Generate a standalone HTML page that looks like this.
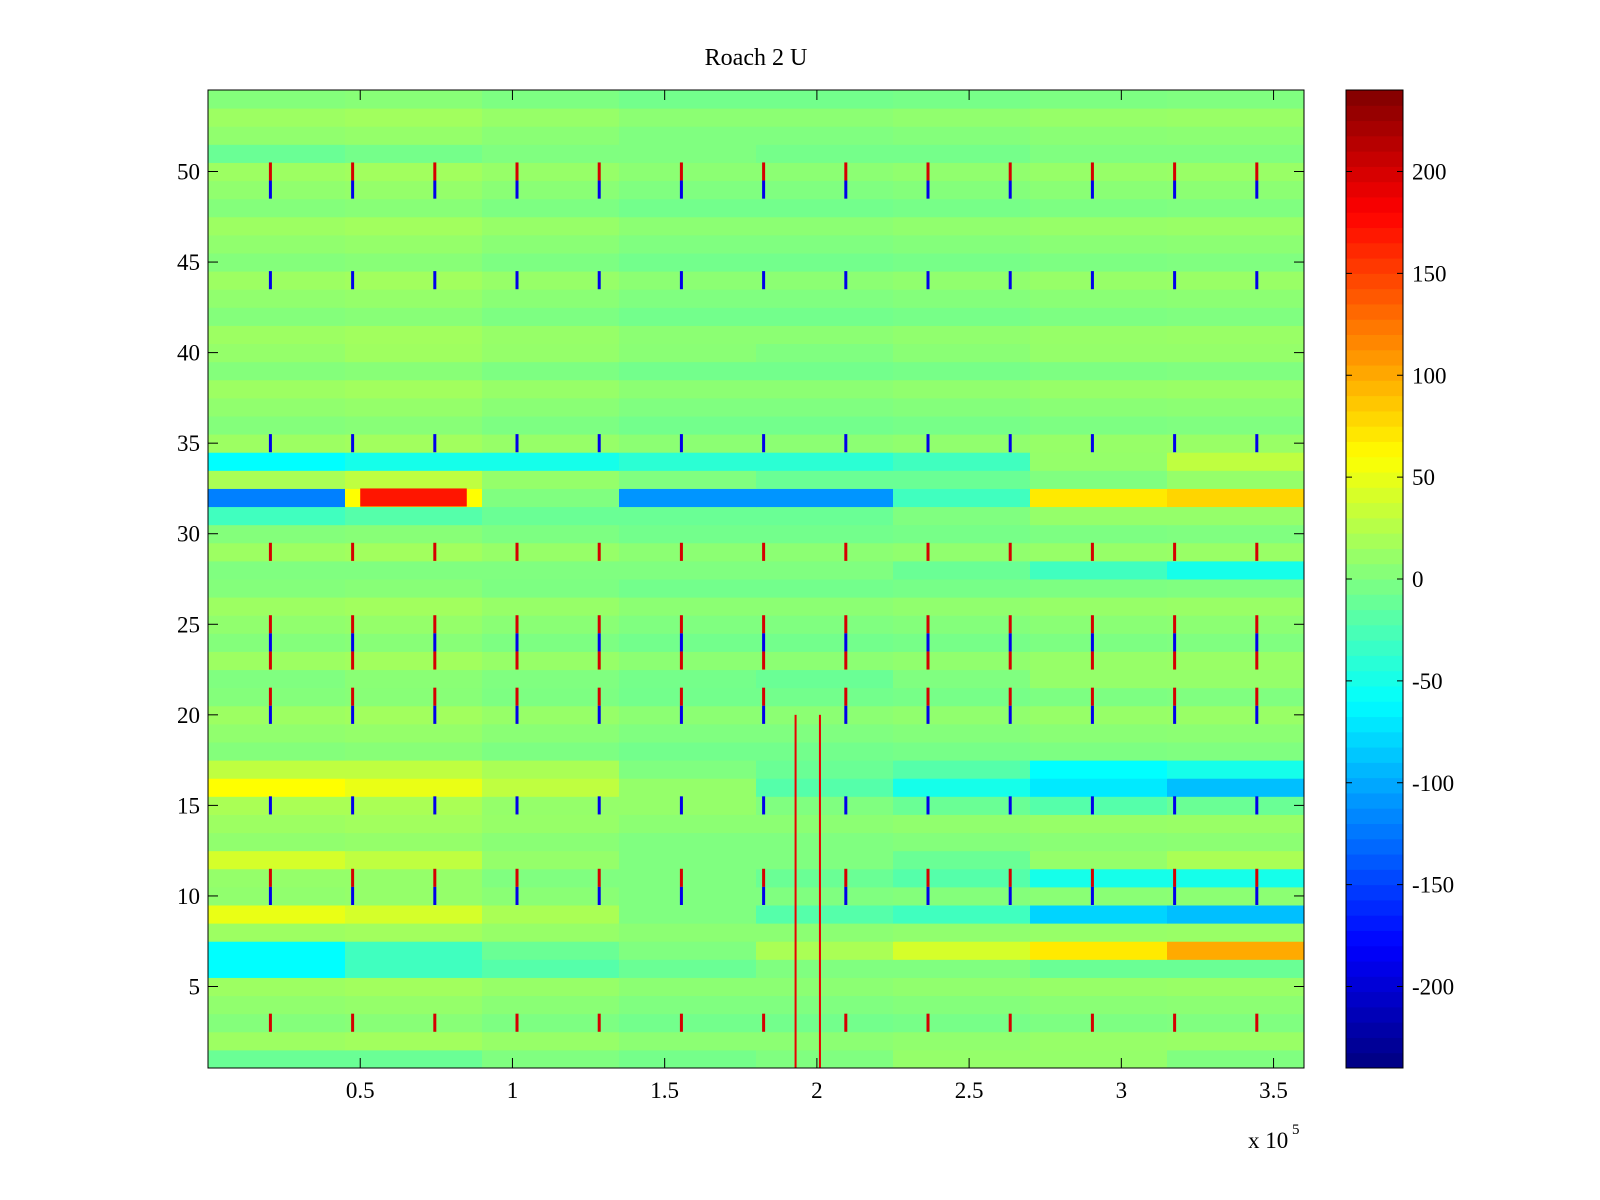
<!DOCTYPE html>
<html><head><meta charset="utf-8"><style>
body{margin:0;background:#fff;width:1600px;height:1200px;overflow:hidden}
svg{display:block;font-family:"Liberation Serif",serif}
</style></head><body>
<svg id="c" width="1600" height="1200"></svg>
<script>
// data arrays
const xTicks=[0.5,1,1.5,2,2.5,3,3.5];
const yTicks=[5,10,15,20,25,30,35,40,45,50];
const cTicks=[-200,-150,-100,-50,0,50,100,150,200];
const segEdges=[0,0.45,0.9,1.35,1.8,2.25,2.7,3.15,3.6];
const defaultRow=[8,10,5,0,0,2,5,6];
const rowOverrides={
32:[-120,60,0,-110,-110,-30,70,80],
34:[-60,-50,-50,-40,-40,-30,10,30],
33:[20,30,10,0,-10,-10,0,10],
31:[-30,-20,-10,-10,-10,0,10,10],
28:[0,0,0,0,0,-10,-30,-50],
17:[30,30,20,0,-10,-20,-60,-50],
16:[60,50,30,10,-20,-50,-70,-90],
15:[20,20,10,10,0,-10,-20,-10],
12:[40,30,10,0,0,-10,10,20],
11:[10,10,0,0,-10,-20,-50,-50],
9:[50,40,20,0,-20,-30,-80,-90],
7:[-60,-30,-10,0,20,40,70,100],
6:[-60,-30,-20,-10,0,0,-10,-10],
51:[-10,-5,0,0,-5,-5,0,0],
40:[10,15,10,5,0,5,10,10],
22:[0,5,0,-5,-10,0,10,10],
1:[-10,-10,0,-5,0,10,10,0]
};
const hotSpanX=[0.5,0.85];
const hotSpanRow=32;
const hotSpanVal=170;
const spikeX=[0.205,0.475,0.745,1.015,1.285,1.555,1.825,2.095,2.365,2.635,2.905,3.175,3.445];
const redRows=[50,29,25,23,21,11,3];
const blueRows=[49,44,35,24,20,15,10];
const lineX=[1.93,2.01];
const lineTop=20;
const lineVal=190;
</script>
<script>
const S=document.getElementById('c');const NS='http://www.w3.org/2000/svg';
const L=208,R=1304,T=90,B=1068,X0=0,X1=3.6,Y0=0.5,Y1=54.5;
const xs=v=>L+(v-X0)/(X1-X0)*(R-L);
const ys=v=>B-(v-Y0)/(Y1-Y0)*(B-T);
const CB0=-240,CB1=240,CL=1346,CR=1403;
const cs=v=>B-(v-CB0)/(CB1-CB0)*(B-T);
function jet(v){let t=(v-CB0)/(CB1-CB0);t=Math.max(0,Math.min(1,t));
 const f=x=>Math.max(0,Math.min(1,1.5-Math.abs(4*t-x)));
 return `rgb(${Math.round(255*f(3))},${Math.round(255*f(2))},${Math.round(255*f(1))})`;}
function el(n,a,p){const e=document.createElementNS(NS,n);for(const k in a)e.setAttribute(k,a[k]);(p||S).appendChild(e);return e;}
const g=el('g',{});


for(let r=1;r<=54;r++){
 const vals=rowOverrides[r]||defaultRow.map(v=>v+((r%3)-1)*6);
 for(let s=0;s<vals.length;s++){
  const x0=xs(segEdges[s]),x1=xs(segEdges[s+1]);
  const c=el('rect',{x:x0,y:ys(r+0.5),width:x1-x0+0.5,height:ys(r-0.5)-ys(r+0.5)+0.5,fill:jet(vals[s])},g);
  
  
 }
}
const hs=el('rect',{x:xs(hotSpanX[0]),y:ys(hotSpanRow+0.5),width:xs(hotSpanX[1])-xs(hotSpanX[0]),height:ys(hotSpanRow-0.5)-ys(hotSpanRow+0.5),fill:jet(hotSpanVal)},g);


const w=3;
spikeX.forEach(x=>{
 redRows.forEach(r=>{const e=el('rect',{x:xs(x)-w/2,y:ys(r+0.5),width:w,height:ys(r-0.5)-ys(r+0.5),fill:jet(200)},g);
  });
 blueRows.forEach(r=>{const e=el('rect',{x:xs(x)-w/2,y:ys(r+0.5),width:w,height:ys(r-0.5)-ys(r+0.5),fill:jet(-190)},g);
  });
});
lineX.forEach(x=>{const e=el('rect',{x:xs(x)-1,y:ys(lineTop),width:2,height:B-ys(lineTop),fill:jet(lineVal)},g);
 });
const box=el('rect',{x:L,y:T,width:R-L,height:B-T,fill:'none',stroke:'#000','stroke-width':1});

xTicks.forEach(t=>{const x=xs(t);
 el('line',{x1:x,x2:x,y1:B,y2:B-10,stroke:'#000'});el('line',{x1:x,x2:x,y1:T,y2:T+10,stroke:'#000'});
 const tx=el('text',{x:x,y:B+30,'font-size':23,'text-anchor':'middle'});tx.textContent=t;
 });
yTicks.forEach(t=>{const y=ys(t);
 el('line',{x1:L,x2:L+10,y1:y,y2:y,stroke:'#000'});el('line',{x1:R,x2:R-10,y1:y,y2:y,stroke:'#000'});
 const tx=el('text',{x:L-8,y:y+8,'font-size':23,'text-anchor':'end'});tx.textContent=t;
 });
const cb=el('g',{});
for(let i=0;i<64;i++){const v0=CB0+i*(CB1-CB0)/64,v1=v0+(CB1-CB0)/64;
 el('rect',{x:CL,y:cs(v1),width:CR-CL,height:cs(v0)-cs(v1)+0.5,fill:jet((v0+v1)/2)},cb);}
el('rect',{x:CL,y:T,width:CR-CL,height:B-T,fill:'none',stroke:'#000'},cb);
cTicks.forEach(t=>{const y=cs(t);
 el('line',{x1:CL,x2:CL+6,y1:y,y2:y,stroke:'#000'},cb);el('line',{x1:CR,x2:CR-6,y1:y,y2:y,stroke:'#000'},cb);
 const tx=el('text',{x:CR+9,y:y+8,'font-size':23},cb);tx.textContent=t;
 });
const ti=el('text',{x:756,y:65,'font-size':24,'text-anchor':'middle'});ti.textContent='Roach 2 U';

const ex=el('text',{x:1248,y:1148,'font-size':23});ex.textContent='x 10';

const e5=el('text',{x:1292,y:1134,'font-size':15});e5.textContent='5';

</script>
</body></html>
